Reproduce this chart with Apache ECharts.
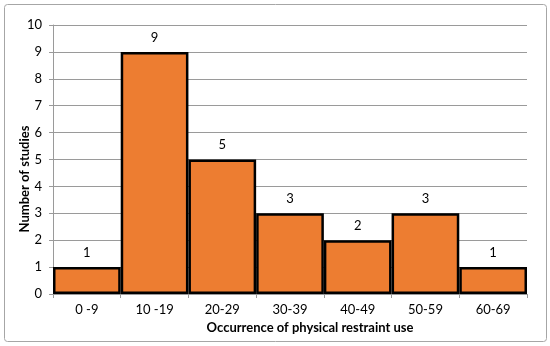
<!DOCTYPE html>
<html><head><meta charset="utf-8">
<script src="https://cdn.jsdelivr.net/npm/echarts@6/dist/echarts.min.js"></script>
<style>html,body{margin:0;padding:0;background:#fff}#c{width:550px;height:346px}</style>
</head><body><div id="c"></div>
<script>
const categories = ['0 -9', '10 -19', '20-29', '30-39', '40-49', '50-59', '60-69'];
const studies = [1, 9, 5, 3, 2, 3, 1];
const yTicks = [0, 1, 2, 3, 4, 5, 6, 7, 8, 9, 10];
const xTitle = 'Occurrence of physical restraint use';
const yTitle = 'Number of studies';

const FONT = 'Lato';
const chart = echarts.init(document.getElementById('c'));
chart.setOption({
  animation: false,
  textStyle: { fontFamily: FONT },
  graphic: [{
    type: 'rect', shape: { x: 4.5, y: 4.5, width: 542, height: 337, r: 3 },
    style: { fill: 'none', stroke: '#a6a6a6', lineWidth: 1 }, silent: true
  }, {
    type: 'text', x: 310, y: 328, silent: true,
    style: { text: xTitle, fill: '#000', font: 'bold 13px ' + FONT, align: 'center', verticalAlign: 'middle' }
  }, {
    type: 'text', x: 25, y: 179, rotation: Math.PI / 2, silent: true,
    style: { text: yTitle, fill: '#000', font: 'bold 13px ' + FONT, align: 'center', verticalAlign: 'middle' }
  }],
  grid: { left: 53, right: 23, top: 25, bottom: 52, containLabel: false },
  xAxis: {
    type: 'category', data: categories,
    axisLine: { lineStyle: { color: '#9a9a9a', width: 1 } },
    axisTick: { show: true, length: 4, lineStyle: { color: '#9a9a9a' } },
    axisLabel: { color: '#000', fontSize: 13, fontFamily: FONT, margin: 9 }
  },
  yAxis: {
    type: 'value', min: yTicks[0], max: yTicks[yTicks.length - 1], interval: 1,
    axisLine: { show: true, lineStyle: { color: '#9a9a9a', width: 1 } },
    axisTick: { show: true, length: 4, lineStyle: { color: '#9a9a9a' } },
    splitLine: { lineStyle: { color: '#9a9a9a', width: 1 } },
    axisLabel: { color: '#000', fontSize: 13, fontFamily: FONT, margin: 11 }
  },
  series: [{
    type: 'bar', data: studies, barCategoryGap: 0,
    itemStyle: { color: '#ed7d31', borderColor: '#000', borderWidth: 2.5 },
    label: { show: true, position: 'top', distance: 8, color: '#000', fontSize: 13, fontFamily: FONT }
  }]
});
</script></body></html>
